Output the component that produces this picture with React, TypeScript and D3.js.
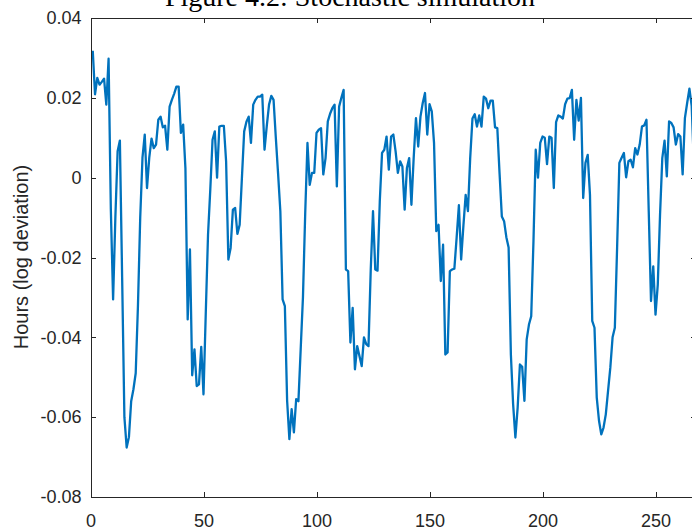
import React, { useRef, useEffect } from "react";
import * as d3 from "d3";

// simulated hours, log deviation from steady state, one value per period (t = 1..267)
const hours = [
  0.0318, 0.0209, 0.025, 0.0233, 0.024, 0.0248, 0.0183, 0.0298, -0.008, -0.0305,
  -0.01, 0.0066, 0.0093, -0.025, -0.06, -0.0676, -0.065, -0.056, -0.053, -0.049,
  -0.032, -0.01, 0.005, 0.0108, -0.0026, 0.005, 0.0098, 0.0074, 0.0083, 0.0145,
  0.0153, 0.0126, 0.013, 0.007, 0.0178, 0.0195, 0.021, 0.0228, 0.0228, 0.0112,
  0.0133, 0.0024, -0.0355, -0.018, -0.0495, -0.043, -0.0522, -0.0518, -0.0424, -0.0543,
  -0.034, -0.0143, -0.003, 0.0095, 0.0116, 0, 0.0128, 0.013, 0.013, 0.0041,
  -0.0205, -0.0176, -0.008, -0.0076, -0.0141, -0.0118, 0, 0.0116, 0.014, 0.0153,
  0.0087, 0.0183, 0.0195, 0.0203, 0.0203, 0.0208, 0.007, 0.013, 0.0183, 0.0205,
  0.0195, 0.01, 0.001, -0.0084, -0.0305, -0.0322, -0.0559, -0.0655, -0.058, -0.0638,
  -0.0555, -0.056, -0.043, -0.03, -0.009, 0.0087, -0.0018, 0.0012, 0.0012, 0.0112,
  0.012, 0.0124, 0.0008, 0.0049, 0.0141, 0.016, 0.0174, 0.0183, -0.0022, 0.0178,
  0.02, 0.022, -0.023, -0.0234, -0.0413, -0.0326, -0.048, -0.0422, -0.0447, -0.0472,
  -0.04, -0.0417, -0.0422, -0.023, -0.0084, -0.023, -0.0233, -0.0059, 0.0062, 0.007,
  0.0103, 0.002, 0.0103, 0.0108, 0.0066, 0.0012, 0.0041, 0.0028, -0.008, 0.0024,
  0.0049, -0.0068, 0.005, 0.0149, 0.0078, 0.0153, 0.0187, 0.0212, 0.0108, 0.0184,
  0.0166, 0.0087, -0.0134, -0.0118, -0.0259, -0.0168, -0.0443, -0.0438, -0.0234, -0.023,
  -0.0228, -0.015, -0.0069, -0.0205, -0.012, -0.0043, -0.0084, 0.0049, 0.0148, 0.0159,
  0.0128, 0.0156, 0.0128, 0.0203, 0.0198, 0.0174, 0.0193, 0.0193, 0.0126, 0.0124,
  0.001, -0.0097, -0.0109, -0.0149, -0.0175, -0.0443, -0.0568, -0.0651, -0.0576, -0.0468,
  -0.0474, -0.0559, -0.0405, -0.0368, -0.0347, -0.0159, 0.007, 0, 0.0087, 0.0103,
  0.01, 0.0034, 0.0103, 0.01, -0.0026, 0.0139, 0.0156, 0.0153, 0.0148, 0.0184,
  0.0198, 0.0199, 0.022, 0.0095, 0.0195, 0.0143, 0.02, -0.0051, 0.0037, 0.0057,
  -0.0043, -0.0359, -0.0376, -0.0551, -0.0609, -0.0643, -0.0626, -0.0593, -0.0534, -0.0476,
  -0.04, -0.0376, -0.0176, 0.0037, 0.005, 0.0062, 0.0001, 0.0041, 0.0045, 0.0026,
  0.0074, 0.0058, 0.0083, 0.0128, 0.0131, 0.0145, -0.0084, -0.0309, -0.0222, -0.0343,
  -0.0268, -0.0093, 0.0049, 0.0093, 0.0003, 0.0141, 0.0137, 0.0126, 0.0083, 0.0109,
  0.0103, 0.0008, 0.0149, 0.0187, 0.0223, 0.018, 0.003,
];

const xTicks = [0, 50, 100, 150, 200, 250];
const yTicks = [-0.08, -0.06, -0.04, -0.02, 0, 0.02, 0.04];
const yTickLabels = ["-0.08", "-0.06", "-0.04", "-0.02", "0", "0.02", "0.04"];
const title = "Figure 4.2: Stochastic simulation";
const yLabel = "Hours (log deviation)";

export default function App() {
  const ref = useRef<SVGSVGElement>(null);

  useEffect(() => {
    const svg = d3.select(ref.current);
    svg.selectAll("*").remove();

    const left = 90.5;
    const right = 696.2;
    const top = 18;
    const bottom = 497;
    const axisColor = "#262626";
    const font = "'Liberation Sans', Arial, Helvetica, sans-serif";

    const x = d3.scaleLinear().domain([0, 268]).range([left, right]);
    const y = d3.scaleLinear().domain([-0.08, 0.04]).range([bottom, top]);

    svg
      .append("defs")
      .append("clipPath")
      .attr("id", "plot-clip")
      .append("rect")
      .attr("x", left)
      .attr("y", top)
      .attr("width", right - left)
      .attr("height", bottom - top);

    // series
    const periods = hours.map((_, i) => i + 1);
    const line = d3
      .line<number>()
      .x((d, i) => x(periods[i]))
      .y((d) => y(d));

    svg
      .append("path")
      .datum(hours)
      .attr("clip-path", "url(#plot-clip)")
      .attr("fill", "none")
      .attr("stroke", "#0072BD")
      .attr("stroke-width", 2.3)
      .attr("stroke-linejoin", "round")
      .attr("d", line);

    const styleAxis = (g) => {
      g.attr("font-family", font).attr("font-size", 18);
      g.select(".domain").attr("stroke", axisColor).attr("shape-rendering", "crispEdges");
      g.selectAll(".tick line").attr("stroke", axisColor).attr("shape-rendering", "crispEdges");
      g.selectAll(".tick text").attr("fill", axisColor);
    };

    svg
      .append("g")
      .attr("transform", `translate(0,${bottom})`)
      .call(d3.axisBottom(x).tickValues(xTicks).tickSizeInner(-5).tickSizeOuter(0).tickPadding(17).tickFormat(d3.format("d")))
      .call(styleAxis);

    svg
      .append("g")
      .attr("transform", `translate(0,${top})`)
      .call(d3.axisTop(x).tickValues(xTicks).tickSizeInner(-5).tickSizeOuter(0).tickFormat(() => ""))
      .call(styleAxis);

    svg
      .append("g")
      .attr("transform", `translate(${left},0)`)
      .call(
        d3
          .axisLeft(y)
          .tickValues(yTicks)
          .tickSizeInner(-5)
          .tickSizeOuter(0)
          .tickPadding(9)
          .tickFormat((d, i) => yTickLabels[i])
      )
      .call(styleAxis);

    svg
      .append("g")
      .attr("transform", `translate(${right},0)`)
      .call(d3.axisRight(y).tickValues(yTicks).tickSizeInner(-5).tickSizeOuter(0).tickFormat(() => ""))
      .call(styleAxis);

    svg
      .append("text")
      .attr("transform", "translate(28,257) rotate(-90)")
      .attr("text-anchor", "middle")
      .attr("font-family", font)
      .attr("font-size", 20)
      .attr("fill", axisColor)
      .text(yLabel);

    // title sits above the crop, only its lower part shows
    svg
      .append("text")
      .attr("x", 350)
      .attr("y", 5.5)
      .attr("text-anchor", "middle")
      .attr("font-family", "'Liberation Serif', 'Times New Roman', serif")
      .attr("font-size", 28)
      .attr("fill", "#000")
      .text(title);
  }, []);

  return (
    <svg
      ref={ref}
      width={692}
      height={532}
      style={{ position: "absolute", left: 0, top: 0, background: "#fff" }}
    />
  );
}
